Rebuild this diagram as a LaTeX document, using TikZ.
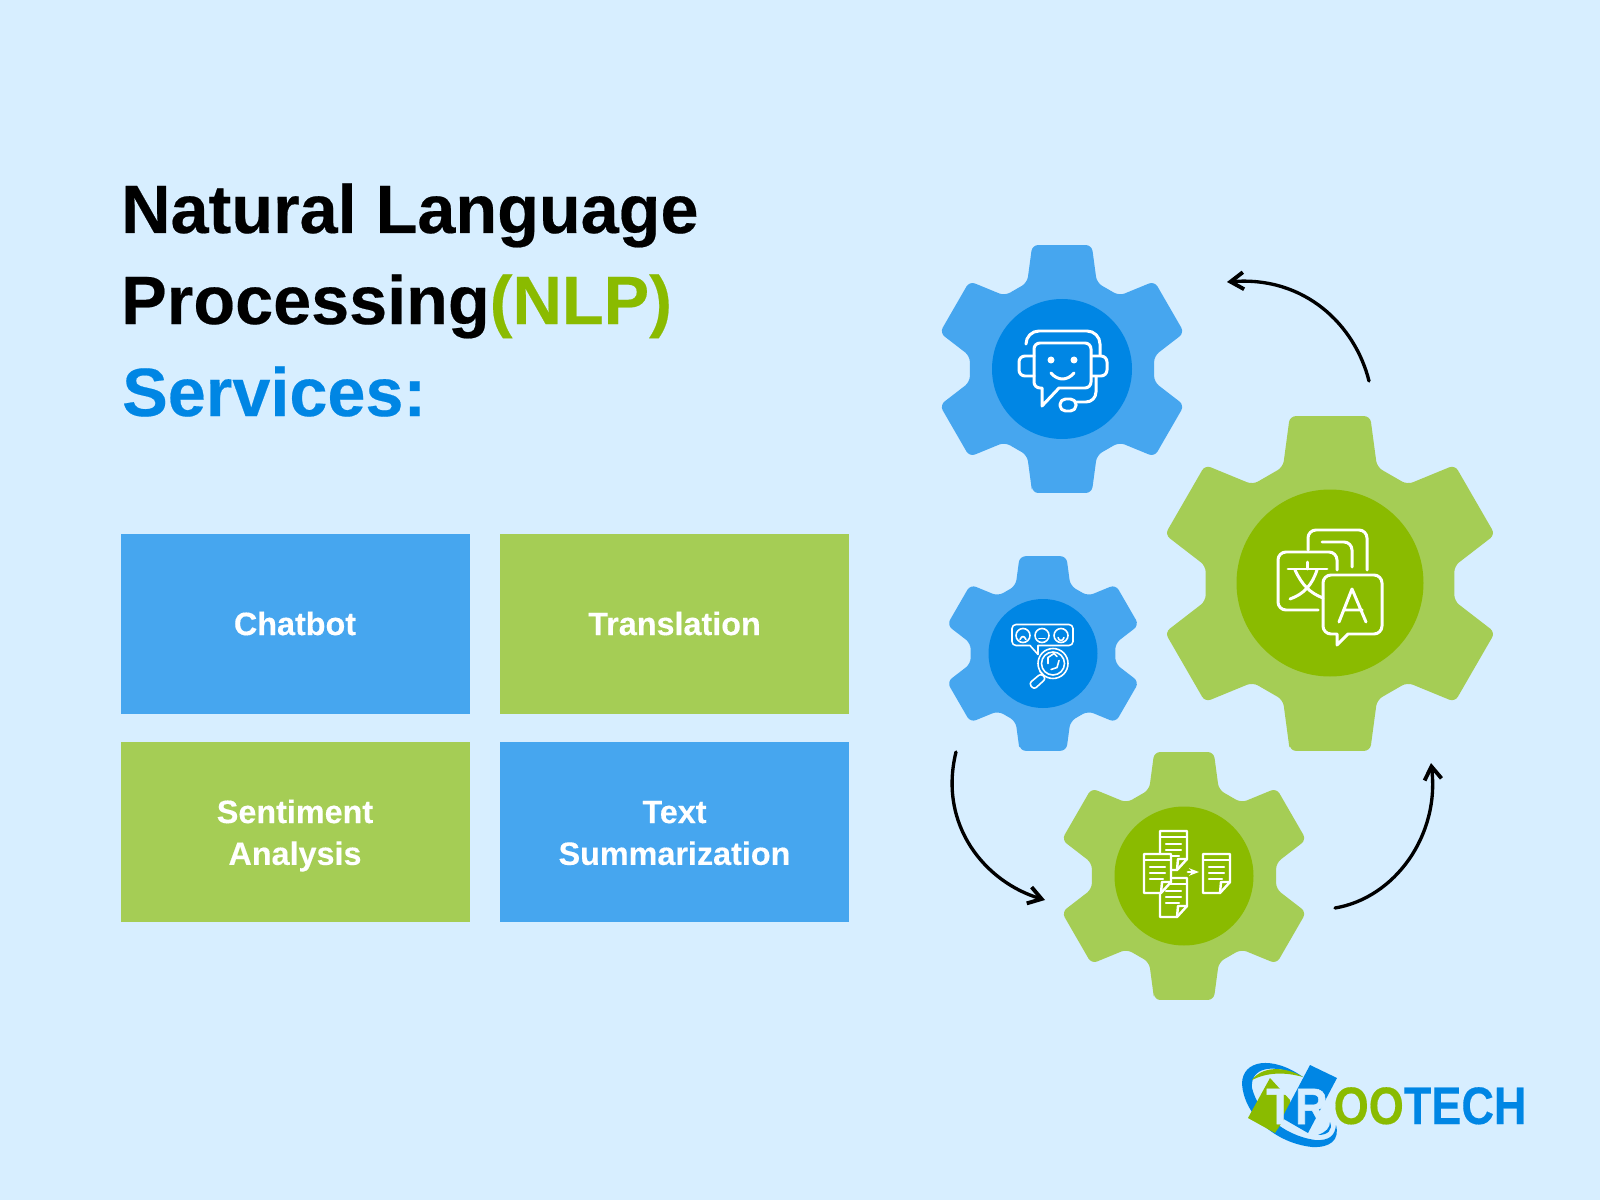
\documentclass[tikz,border=0pt]{standalone}
\usepackage{fontspec}
\setmainfont[BoldFeatures={FakeBold=0.3}]{Liberation Sans}
\newfontfamily\logofont[FakeBold=1.2]{Liberation Sans Bold}
\usetikzlibrary{arrows.meta}
\definecolor{pagebg}{HTML}{D7EEFF}
\definecolor{softblue}{HTML}{46A6EF}
\definecolor{deepblue}{HTML}{0086E4}
\definecolor{softgreen}{HTML}{A5CD55}
\definecolor{deepgreen}{HTML}{8ABB00}
\tikzset{
	tile/.style={minimum width=34.9mm, minimum height=18mm, inner sep=0pt, align=center, text=white,
		font=\fontsize{9.2}{11.9}\selectfont\bfseries},
	headline/.style={anchor=base west, inner sep=0pt, font=\fontsize{19.45}{24}\selectfont\bfseries},
	hub/.style={circle, inner sep=0pt},
	icon/.style={draw=white, line width=0.85pt, line cap=round, line join=round},
	flow/.style={line width=0.95pt, line cap=round, -{Straight Barb[length=1.3mm, width=1.7mm, line width=1.1pt]}},
	pics/gear/.style={code={
		\fill[#1, rounded corners=0.6mm] (90+13.5:127.5) \foreach \a in {90,30,-30,-90,-150,-210} {
			-- (\a-13.5:127.5) -- (\a-22:93) -- (\a-38:93) -- (\a-60+13.5:127.5) } -- cycle;
	}},
	pics/sheet/.style={code={
		\draw[icon, line width=0.7pt, fill=deepgreen] (0,0) -- (27,0) -- (27,28) -- (17,39) -- (0,39) -- cycle;
		\draw[icon, line width=0.7pt] (27,28) -- (18,28) -- (17,39);
		\draw[icon, line width=0.7pt] (0,6) -- (27,6);
		\draw[icon, line width=0.7pt] (6,13) -- (21,13) (6,19) -- (21,19) (6,25) -- (19,25);
	}}
}
\begin{document}
\begin{tikzpicture}[x=0.1mm, y=-0.1mm]
	\useasboundingbox (0,0) rectangle (1600,1200);
	\fill[pagebg] (0,0) rectangle (1600,1200);

	% heading
	\node[headline] (title1) at (120.5,233) {Natural Language};
	\node[headline] (title2) at (120.5,324) {Processing\textcolor{deepgreen}{(NLP)}};
	\node[headline, text=deepblue] (title3) at (121.5,416) {Services:};

	% tiles
	\node[tile, fill=softblue] (chatbot) at (295,623.5) {Chatbot};
	\node[tile, fill=softgreen] (translation) at (674.5,623.5) {Translation};
	\node[tile, fill=softgreen] (sentiment) at (295,831.5) {\rule{0pt}{9pt}Sentiment\\Analysis};
	\node[tile, fill=softblue] (summary) at (674.5,831.5) {\rule{0pt}{9pt}Text\\Summarization\vphantom{y}};

	% gears
	\pic at (1062,369) {gear=softblue};
	\pic[scale=1.35, transform shape] at (1330,583.5) {gear=softgreen};
	\pic[scale=0.785, transform shape] at (1043,653.5) {gear=softblue};
	\pic at (1184,876) {gear=softgreen};
	\node[hub, fill=deepblue, minimum size=14mm] (hubchat) at (1062,369) {};
	\node[hub, fill=deepgreen, minimum size=18.7mm] (hubtrans) at (1330,583) {};
	\node[hub, fill=deepblue, minimum size=10.9mm] (hubsent) at (1043,653.5) {};
	\node[hub, fill=deepgreen, minimum size=13.9mm] (hubsum) at (1184,876) {};

	% chatbot icon
	\begin{scope}[shift={(1062,369)}, icon]
		\draw[rounded corners=1.3mm] (-36,-26) -- (-36,-38) -- (38,-38) -- (38,-14);
		\draw[rounded corners=0.6mm] (-28,-13) -- (-43,-13) -- (-43,7) -- (-28,7);
		\draw[rounded corners=0.6mm] (30,-13) -- (45,-13) -- (45,7) -- (30,7);
		\draw (-3,19) [rounded corners=0.6mm] -- (29,19) -- (29,-26) -- (-28,-26) -- (-28,19) [sharp corners] -- (-20,19) -- (-20,37) -- cycle;
		\draw[rounded corners=1mm] (34,8) -- (34,33) -- (14,33);
		\draw[rounded corners=0.55mm] (-2,30) rectangle (14,42);
		\fill[white] (-11,-9) circle (3.5) (12,-9) circle (3.5);
		\draw (-11,4) .. controls (-4,12) and (5,12) .. (12,4);
	\end{scope}

	% translation icon
	\begin{scope}[shift={(1330,583)}, icon]
		\draw[rounded corners=0.8mm] (-22,-33) -- (-22,-53) -- (37,-53) -- (37,-13);
		\draw[rounded corners=0.8mm] (-8,-41) -- (22,-41) -- (22,-16);
		\draw[rounded corners=0.8mm] (7,-13) -- (7,-31) -- (-52,-31) -- (-52,27) -- (-12,27);
		\draw (-42,-14) -- (-3,-14) (-23,-21) -- (-23,-14);
		\draw (-35,-13) .. controls (-28,2) and (-20,10) .. (-7,15);
		\draw (-13,-13) .. controls (-18,2) and (-26,11) .. (-40,16);
		\draw (18,51) [rounded corners=0.8mm] -- (52,51) -- (52,-8) -- (-7,-8) -- (-7,51) [sharp corners] -- (7,51) -- (7,62) -- cycle;
		\draw (9,39) -- (22,6) -- (36,39) (14,27) -- (32,27);
	\end{scope}

	% sentiment icon
	\begin{scope}[shift={(1043,653.5)}, icon, line width=0.45pt]
		\draw (-5,-8) [rounded corners=0.4mm] -- (30,-8) -- (30,-29) -- (-31,-29) -- (-31,-8) [sharp corners] -- (-13,-8) -- (-5,1) -- cycle;
		\draw (-20,-18) circle (7) (-1,-18) circle (7) (18,-18) circle (7);
		\draw (-23,-14) .. controls (-21,-18) and (-19,-18) .. (-17,-14);
		\draw (-4,-15) -- (2,-15);
		\draw (15,-16) .. controls (16,-12) and (20,-12) .. (21,-16);
		\fill[deepblue] (10,10) circle (15);
		\draw (10,10) circle (15) (10,10) circle (11.5);
		\draw (5,10) -- (5,4) -- (11,0) -- (14,3) (16,7) -- (14,14) -- (8,16);
		\draw (0,21) -- (-3,18);
		\draw[rounded corners=0.3mm] (-2,20) -- (-14,30) -- (-9,36) -- (3,25) -- cycle;
	\end{scope}

	% summary icon
	\begin{scope}[shift={(1184,876)}]
		\pic at (-24,-45) {sheet};
		\pic at (-24,2) {sheet};
		\pic at (-40,-22) {sheet};
		\pic at (19,-22) {sheet};
		\draw[icon, -{Stealth[length=1mm]}] (4,-4) -- (15,-4);
	\end{scope}

	% arrows
	\coordinate (a1) at (1369,381);
	\coordinate (b1) at (1227,282);
	\coordinate (a2) at (1335,908);
	\coordinate (b2) at (1431,763);
	\coordinate (a3) at (956,752);
	\coordinate (b3) at (1045,900);
	\draw[flow] (a1) .. controls (1355,325) and (1305,276) .. (b1);
	\draw[flow] (a2) .. controls (1395,898) and (1440,835) .. (b2);
	\draw[flow] (a3) .. controls (938,825) and (985,882) .. (b3);

	% logo
	\fill[deepblue] (1242,1084) .. controls (1242,1060) and (1272,1055) .. (1303,1077) .. controls (1272,1062) and (1250,1068) .. (1252,1088) .. controls (1258,1112) and (1282,1135) .. (1315,1140) .. controls (1330,1141) and (1335,1135) .. (1336,1125) .. controls (1340,1140) and (1330,1148) .. (1312,1147) .. controls (1275,1143) and (1244,1115) .. (1242,1084) -- cycle;
	\fill[deepgreen] (1248,1118) -- (1270,1078) -- (1290,1100) -- (1290,1110) -- (1275,1133) -- cycle;
	\fill[deepgreen] (1252,1080) .. controls (1262,1066) and (1285,1066) .. (1303,1077) .. controls (1285,1072) and (1268,1072) .. (1252,1080) -- cycle;
	\fill[deepblue] (1310,1065) -- (1337,1078) -- (1308,1133) -- (1282,1118) -- cycle;
	\fill[deepblue] (1318,1135) .. controls (1326,1132) and (1330,1128) .. (1330,1122) .. controls (1333,1130) and (1328,1135) .. (1318,1135) -- cycle;
	\node[anchor=base, inner sep=0pt, text=pagebg, font=\logofont\fontsize{14.5}{15}\selectfont] (logotr) at (1297,1124) {\scalebox{0.88}[1]{T\kern0.5pt R}};
	\node[anchor=base west, inner sep=0pt, font=\fontsize{15}{15}\selectfont\bfseries] (logotext) at (1333,1124) {\scalebox{0.855}[1]{\textcolor{deepgreen}{OO}\textcolor{deepblue}{TECH}}};
\end{tikzpicture}
\end{document}
